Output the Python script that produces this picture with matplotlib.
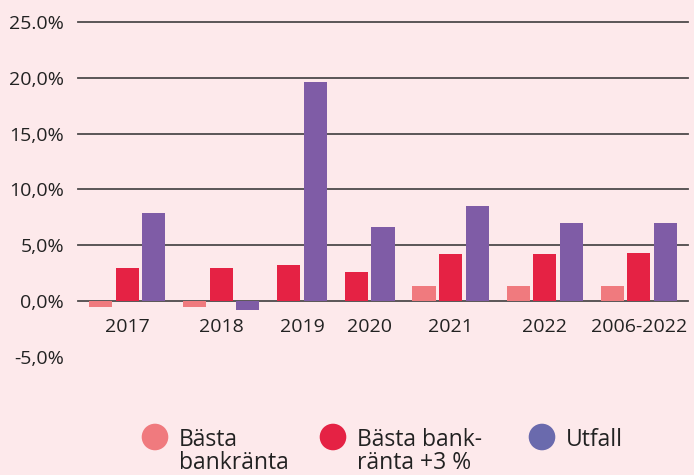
import matplotlib.pyplot as plt
import numpy as np
from matplotlib.patches import Circle

# data (percent)
groups = ["2017", "2018", "2019", "2020", "2021", "2022", "2006-2022"]
basta_bankranta = [-0.5, -0.5, np.nan, np.nan, 1.4, 1.4, 1.4]
basta_bankranta_3 = [3.0, 3.0, 3.2, 2.6, 4.2, 4.2, 4.3]
utfall = [7.9, -0.8, 19.6, 6.6, 8.5, 7.0, 7.0]
y_ticks = [-5, 0, 5, 10, 15, 20, 25]
y_labels = ["-5,0%", "0,0%", "5,0%", "10,0%", "15,0%", "20,0%", "25.0%"]
legend_labels = [["Bästa", "bankränta"], ["Bästa bank-", "ränta +3 %"], ["Utfall"]]

BG = "#fde9eb"
bar_colors = ["#f07a7e", "#e52244", "#7f5ca6"]
legend_colors = ["#f07a7e", "#e52244", "#6a6aad"]
GRID = "#4d4a4b"
TXT = "#222222"

plt.rcParams["font.family"] = ["Open Sans", "DejaVu Sans"]
plt.rcParams["font.size"] = 14

W, H = 694, 475
fig = plt.figure(figsize=(W / 100, H / 100), dpi=100, facecolor=BG)
ax = fig.add_axes([78 / W, 1 - 357 / H, 610 / W, (357 - 22) / H])
ax.set_facecolor(BG)

# lay bars out group by group; missing values take no slot
series = [basta_bankranta, basta_bankranta_3, utfall]
bar_w, inner, gap, margin = 1.0, 0.15, 0.775, 0.48
x = 0.0
centers = []
for g in range(len(groups)):
    xs = []
    for s, vals in enumerate(series):
        v = vals[g]
        if np.isnan(v):
            continue
        ax.bar(x + bar_w / 2, v, width=bar_w, color=bar_colors[s], zorder=2, linewidth=0)
        xs.append(x + bar_w / 2)
        x += bar_w + inner
    x -= inner
    centers.append(np.mean(xs))
    x += gap
x -= gap

ax.set_xlim(-margin, x + margin)
ax.set_ylim(-5, 25)

# gridlines for non-negative ticks
for t in y_ticks:
    if t >= 0:
        ax.axhline(t, color=GRID, lw=1.3, zorder=1, clip_on=False)

ax.set_yticks(y_ticks)
ax.set_yticklabels(y_labels, color=TXT)
ax.tick_params(axis="y", length=0, pad=10)
ax.set_xticks([])
for c, lab in zip(centers, groups):
    ax.text(c, -2.35, lab, ha="center", va="center", color=TXT)
for sp in ax.spines.values():
    sp.set_visible(False)

# legend drawn by hand (pixel coordinates) so the dot sits by the first line
lax = fig.add_axes([0, 0, 1, 1], facecolor="none")
lax.set_xlim(0, W)
lax.set_ylim(H, 0)
lax.axis("off")
leg_x = [155, 333, 542]
for lx, col, lines in zip(leg_x, legend_colors, legend_labels):
    lax.add_patch(Circle((lx, 437), 13.3, color=col, linewidth=0))
    for i, line in enumerate(lines):
        lax.text(lx + 24, 446 + 23 * i, line, ha="left", va="baseline",
                 color=TXT, fontsize=16.5)

fig.savefig("out.png", dpi=100, facecolor=BG)
